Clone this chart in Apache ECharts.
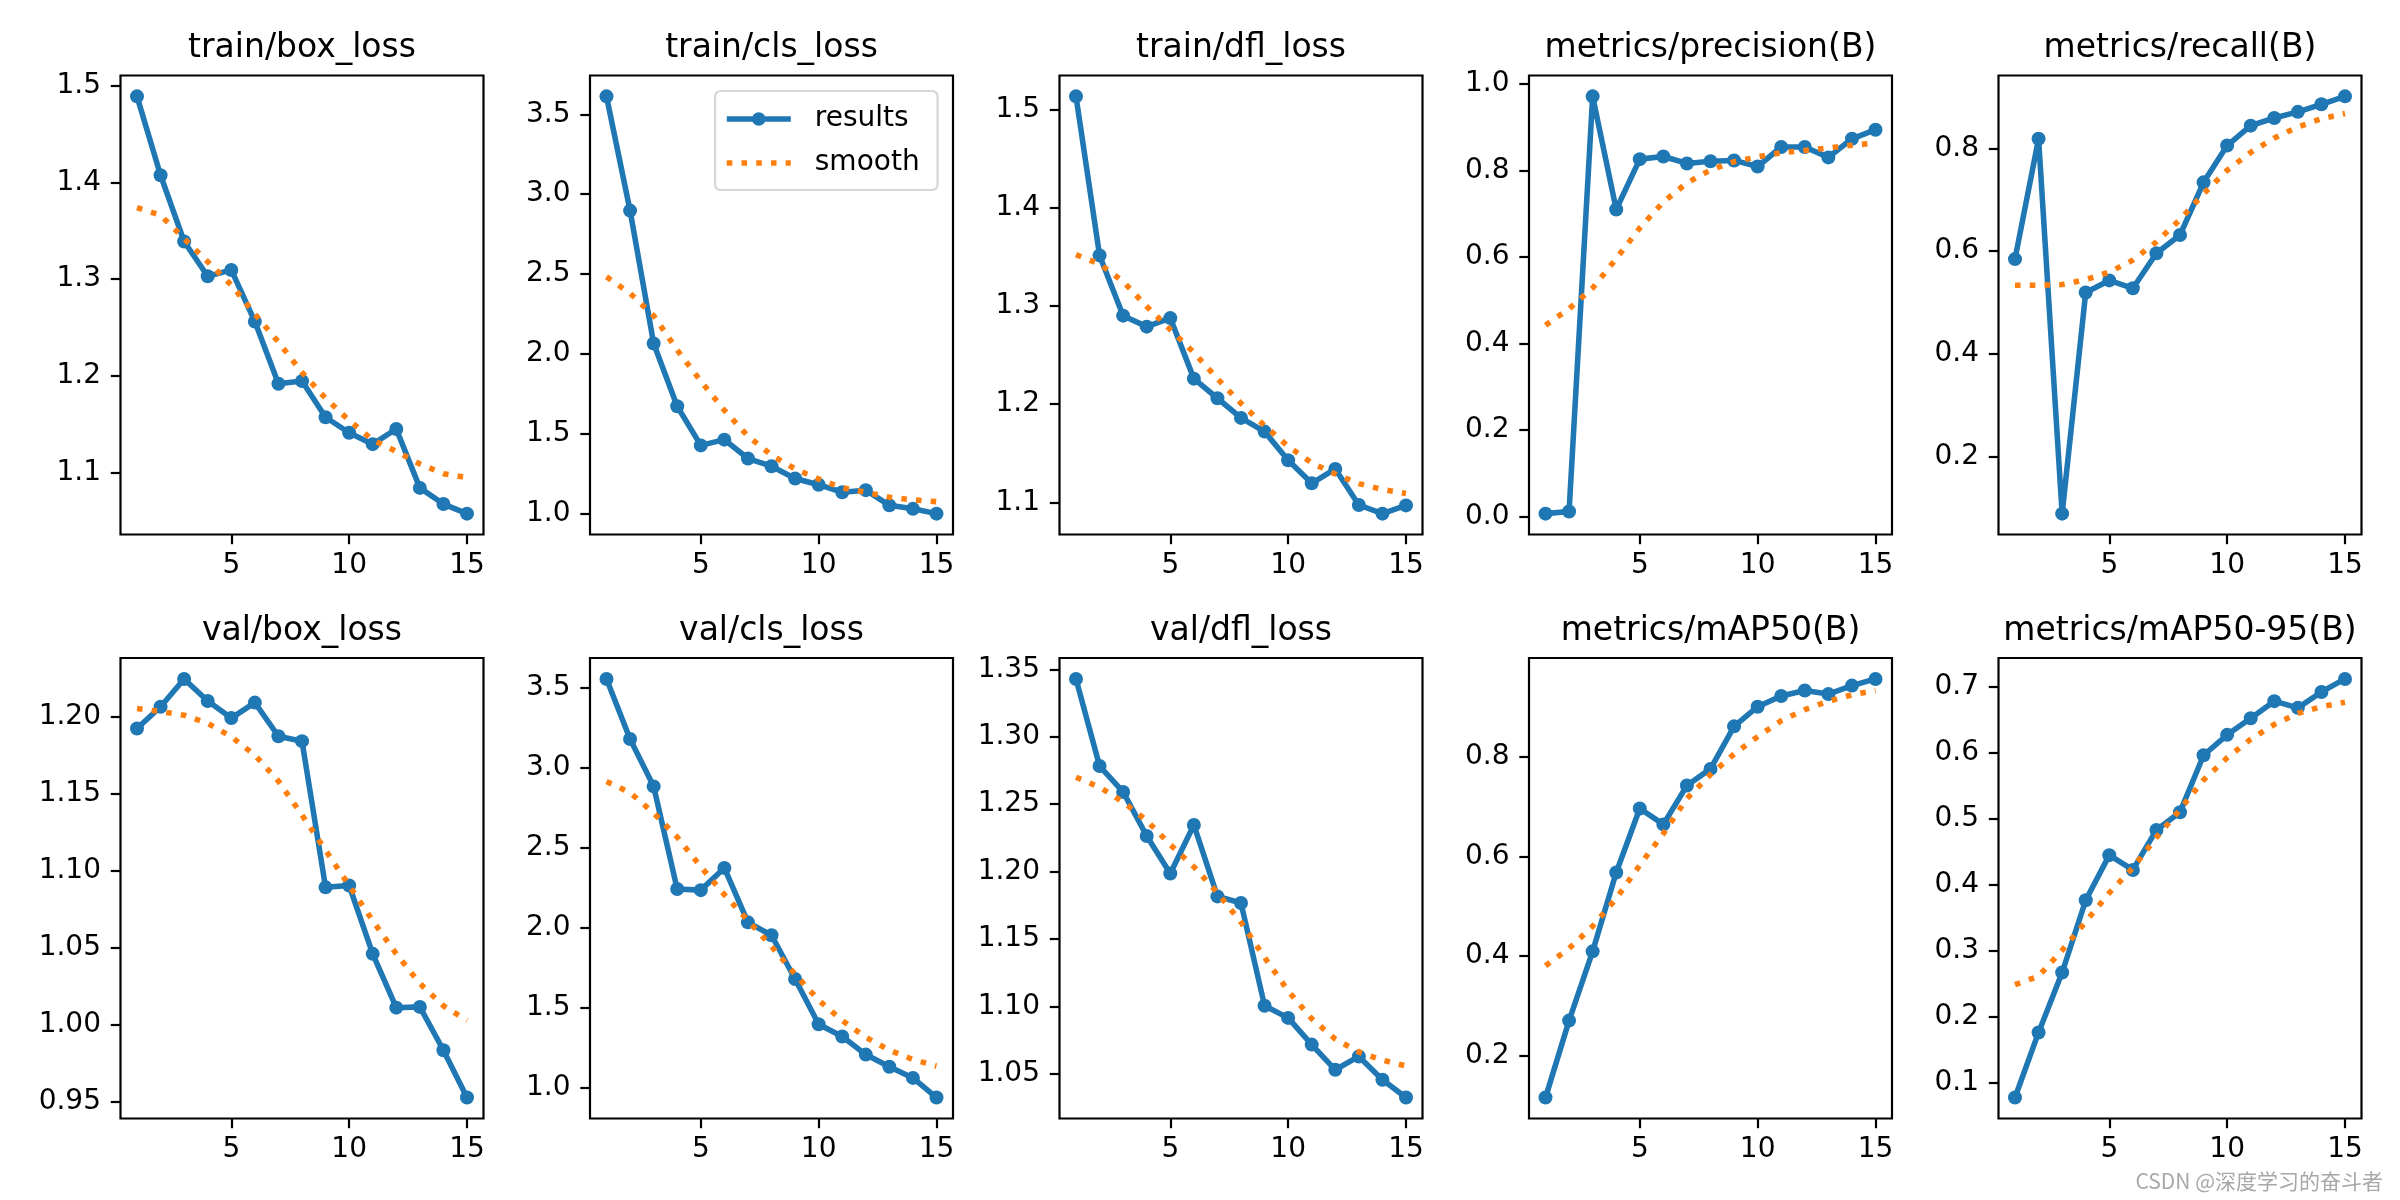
<!DOCTYPE html>
<html><head><meta charset="utf-8">
<script src="https://cdn.jsdelivr.net/npm/echarts@6/dist/echarts.min.js"></script>
<style>html,body{margin:0;padding:0;background:#fff}#c{width:2400px;height:1200px}</style>
</head><body><div id="c"></div>
<script>
const epochs = [1,2,3,4,5,6,7,8,9,10,11,12,13,14,15];
const xTickLabels = ['5','10','15'];

const trainBoxLoss       = [1.489,1.4075,1.339,1.303,1.3096,1.2562,1.192,1.1947,1.1573,1.1413,1.1295,1.1452,1.0843,1.0676,1.0577];
const trainBoxLossSmooth = [1.374,1.366,1.342,1.318,1.294,1.264,1.235,1.2036,1.177,1.154,1.134,1.122,1.109,1.099,1.095];
const trainBoxLossTicks  = ['1.1','1.2','1.3','1.4','1.5'];

const trainClsLoss       = [3.612,2.897,2.065,1.672,1.427,1.463,1.345,1.297,1.22,1.181,1.134,1.147,1.052,1.030,1.0];
const trainClsLossSmooth = [2.483,2.379,2.239,2.024,1.830,1.647,1.485,1.366,1.280,1.216,1.162,1.134,1.103,1.086,1.075];
const trainClsLossTicks  = ['1.0','1.5','2.0','2.5','3.0','3.5'];

const trainDflLoss       = [1.5137,1.3516,1.2902,1.279,1.2877,1.226,1.206,1.186,1.172,1.1428,1.1193,1.134,1.0972,1.0884,1.0968];
const trainDflLossSmooth = [1.3523,1.343,1.325,1.2996,1.276,1.2526,1.226,1.2007,1.178,1.157,1.140,1.1288,1.119,1.113,1.109];
const trainDflLossTicks  = ['1.1','1.2','1.3','1.4','1.5'];

const precision       = [0.007,0.012,0.971,0.7096,0.826,0.832,0.816,0.821,0.823,0.809,0.854,0.854,0.830,0.873,0.894];
const precisionSmooth = [0.442,0.4805,0.528,0.596,0.667,0.727,0.771,0.801,0.820,0.831,0.841,0.846,0.852,0.858,0.863];
const precisionTicks  = ['0.0','0.2','0.4','0.6','0.8','1.0'];

const recall       = [0.5846,0.8187,0.0896,0.5197,0.5431,0.5278,0.596,0.6314,0.7338,0.8054,0.8441,0.8589,0.8709,0.8856,0.901];
const recallSmooth = [0.5338,0.5338,0.535,0.5445,0.5592,0.5826,0.618,0.6615,0.7117,0.7572,0.792,0.82,0.8415,0.8575,0.8676];
const recallTicks  = ['0.2','0.4','0.6','0.8'];

const valBoxLoss       = [1.1925,1.2067,1.2248,1.2104,1.1993,1.2094,1.1875,1.1843,1.0892,1.0904,1.0459,1.0109,1.0114,0.9832,0.9524];
const valBoxLossSmooth = [1.2055,1.2036,1.2012,1.1959,1.1872,1.1752,1.1583,1.1362,1.1133,1.0904,1.0675,1.0459,1.0266,1.0121,1.0025];
const valBoxLossTicks  = ['0.95','1.00','1.05','1.10','1.15','1.20'];

const valClsLoss       = [3.558,3.1826,2.886,2.244,2.237,2.376,2.0357,1.9546,1.681,1.3985,1.322,1.2085,1.132,1.0626,0.9397];
const valClsLossSmooth = [2.916,2.847,2.719,2.569,2.383,2.209,2.047,1.885,1.711,1.549,1.422,1.317,1.236,1.178,1.137];
const valClsLossTicks  = ['1.0','1.5','2.0','2.5','3.0','3.5'];

const valDflLoss       = [1.3429,1.2783,1.2591,1.2264,1.1986,1.2346,1.1816,1.1767,1.1005,1.0915,1.0717,1.053,1.0629,1.0456,1.0324];
const valDflLossSmooth = [1.27,1.2626,1.2516,1.2379,1.22,1.2036,1.1843,1.1624,1.1363,1.1115,1.0909,1.0758,1.0662,1.0602,1.0558];
const valDflLossTicks  = ['1.05','1.10','1.15','1.20','1.25','1.30','1.35'];

const mAP50       = [0.116,0.2706,0.4097,0.568,0.6967,0.6647,0.7428,0.7762,0.8617,0.9011,0.9227,0.9338,0.9264,0.9435,0.9569];
const mAP50Smooth = [0.3807,0.4156,0.4602,0.516,0.5829,0.6461,0.7167,0.765,0.806,0.8409,0.8729,0.8952,0.9123,0.9249,0.9338];
const mAP50Ticks  = ['0.2','0.4','0.6','0.8'];

const mAP5095       = [0.0775,0.1762,0.267,0.3764,0.4448,0.4224,0.483,0.5099,0.5962,0.6271,0.6523,0.6781,0.668,0.6921,0.7118];
const mAP5095Smooth = [0.2485,0.2614,0.3007,0.3439,0.3876,0.4257,0.4717,0.5138,0.5587,0.5923,0.6204,0.6428,0.6596,0.6697,0.6764];
const mAP5095Ticks  = ['0.1','0.2','0.3','0.4','0.5','0.6','0.7'];

const titles = ['train/box_loss','train/cls_loss','train/dfl_loss','metrics/precision(B)','metrics/recall(B)',
                'val/box_loss','val/cls_loss','val/dfl_loss','metrics/mAP50(B)','metrics/mAP50-95(B)'];
const results = [trainBoxLoss,trainClsLoss,trainDflLoss,precision,recall,valBoxLoss,valClsLoss,valDflLoss,mAP50,mAP5095];
const smooths = [trainBoxLossSmooth,trainClsLossSmooth,trainDflLossSmooth,precisionSmooth,recallSmooth,valBoxLossSmooth,valClsLossSmooth,valDflLossSmooth,mAP50Smooth,mAP5095Smooth];
const tickSets = [trainBoxLossTicks,trainClsLossTicks,trainDflLossTicks,precisionTicks,recallTicks,valBoxLossTicks,valClsLossTicks,valDflLossTicks,mAP50Ticks,mAP5095Ticks];

const FONT = 'DejaVu Sans';
const LW = 5.56;
const DOT = [5.56, 9.17];
const chart = echarts.init(document.getElementById('c'), null, {renderer:'canvas', width:2400, height:1200});

const grids=[], xAxes=[], yAxes=[], series=[], graphics=[];
function fmt(labels){
  return function(v){
    for (const l of labels) if (Math.abs(parseFloat(l)-v) < 1e-6) return l;
    return '';
  };
}
const xTickVals = xTickLabels.map(Number);
titles.forEach((t,i)=>{
  const col=i%5, row=Math.floor(i/5);
  const left=120.5+469.5*col, top=row?658:75.5, width=363, height=row?460.5:459;
  grids.push({left,top,width,height,show:true,borderColor:'#000',borderWidth:2.2,backgroundColor:'rgba(0,0,0,0)'});
  const all = results[i].concat(smooths[i]);
  const lo = Math.min(...all), hi = Math.max(...all), pad = 0.05*(hi-lo);
  const yVals = tickSets[i].map(Number);
  const xlo = Math.min(...epochs), xhi = Math.max(...epochs), xpad = 0.05*(xhi-xlo);
  xAxes.push({type:'value',gridIndex:i,min:xlo-xpad,max:xhi+xpad,
    axisLine:{show:false,onZero:false},splitLine:{show:false},
    axisTick:{show:true,length:9.7,lineStyle:{color:'#000',width:2.2},customValues:xTickVals},
    axisLabel:{customValues:xTickVals,formatter:fmt(xTickLabels),fontSize:28,fontFamily:FONT,color:'#000',margin:17}});
  yAxes.push({type:'value',gridIndex:i,min:lo-pad,max:hi+pad,
    axisLine:{show:false,onZero:false},splitLine:{show:false},
    axisTick:{show:true,length:9.7,lineStyle:{color:'#000',width:2.2},customValues:yVals},
    axisLabel:{customValues:yVals,formatter:fmt(tickSets[i]),fontSize:28,fontFamily:FONT,color:'#000',margin:19.5}});
  series.push({type:'line',name:'results',xAxisIndex:i,yAxisIndex:i,
    data:epochs.map((e,k)=>[e,results[i][k]]),
    symbol:'circle',symbolSize:14,showSymbol:true,
    itemStyle:{color:'#1f77b4'},lineStyle:{color:'#1f77b4',width:LW},z:2});
  series.push({type:'line',name:'smooth',xAxisIndex:i,yAxisIndex:i,
    data:epochs.map((e,k)=>[e,smooths[i][k]]),
    symbol:'none',showSymbol:false,
    itemStyle:{color:'#ff7f0e'},lineStyle:{color:'#ff7f0e',width:LW,type:DOT,cap:'butt'},z:3});
  graphics.push({type:'text',x:left+width/2,y:top-27,
    style:{text:t,font:'33px "DejaVu Sans"',fill:'#000',textAlign:'center',textVerticalAlign:'middle'}});
});
graphics.push({type:'text',x:2383,y:1181,
  style:{text:'CSDN @深度学习的奋斗者',font:'21px "Noto Sans CJK SC"',fill:'#a8a8a8',textAlign:'right',textVerticalAlign:'middle'}});

chart.setOption({
  animation:false,
  backgroundColor:'#fff',
  grid:grids, xAxis:xAxes, yAxis:yAxes, series,
  legend:{
    data:[
      {name:'results', lineStyle:{width:LW,color:'#1f77b4'}, itemStyle:{color:'#1f77b4'}},
      {name:'smooth', lineStyle:{width:LW,color:'#ff7f0e',type:DOT,cap:'butt'}, itemStyle:{opacity:0}}
    ],
    left:715,top:91,orient:'vertical',
    itemWidth:64,itemHeight:17,itemGap:16,
    padding:[14,18,13,9],
    borderColor:'rgba(204,204,204,0.8)',borderWidth:2.2,borderRadius:5.5,backgroundColor:'rgba(255,255,255,0.8)',
    textStyle:{fontSize:28,fontFamily:FONT,color:'#000',padding:[0,0,0,19]},
    selectedMode:false},
  graphic:graphics
});
</script></body></html>
